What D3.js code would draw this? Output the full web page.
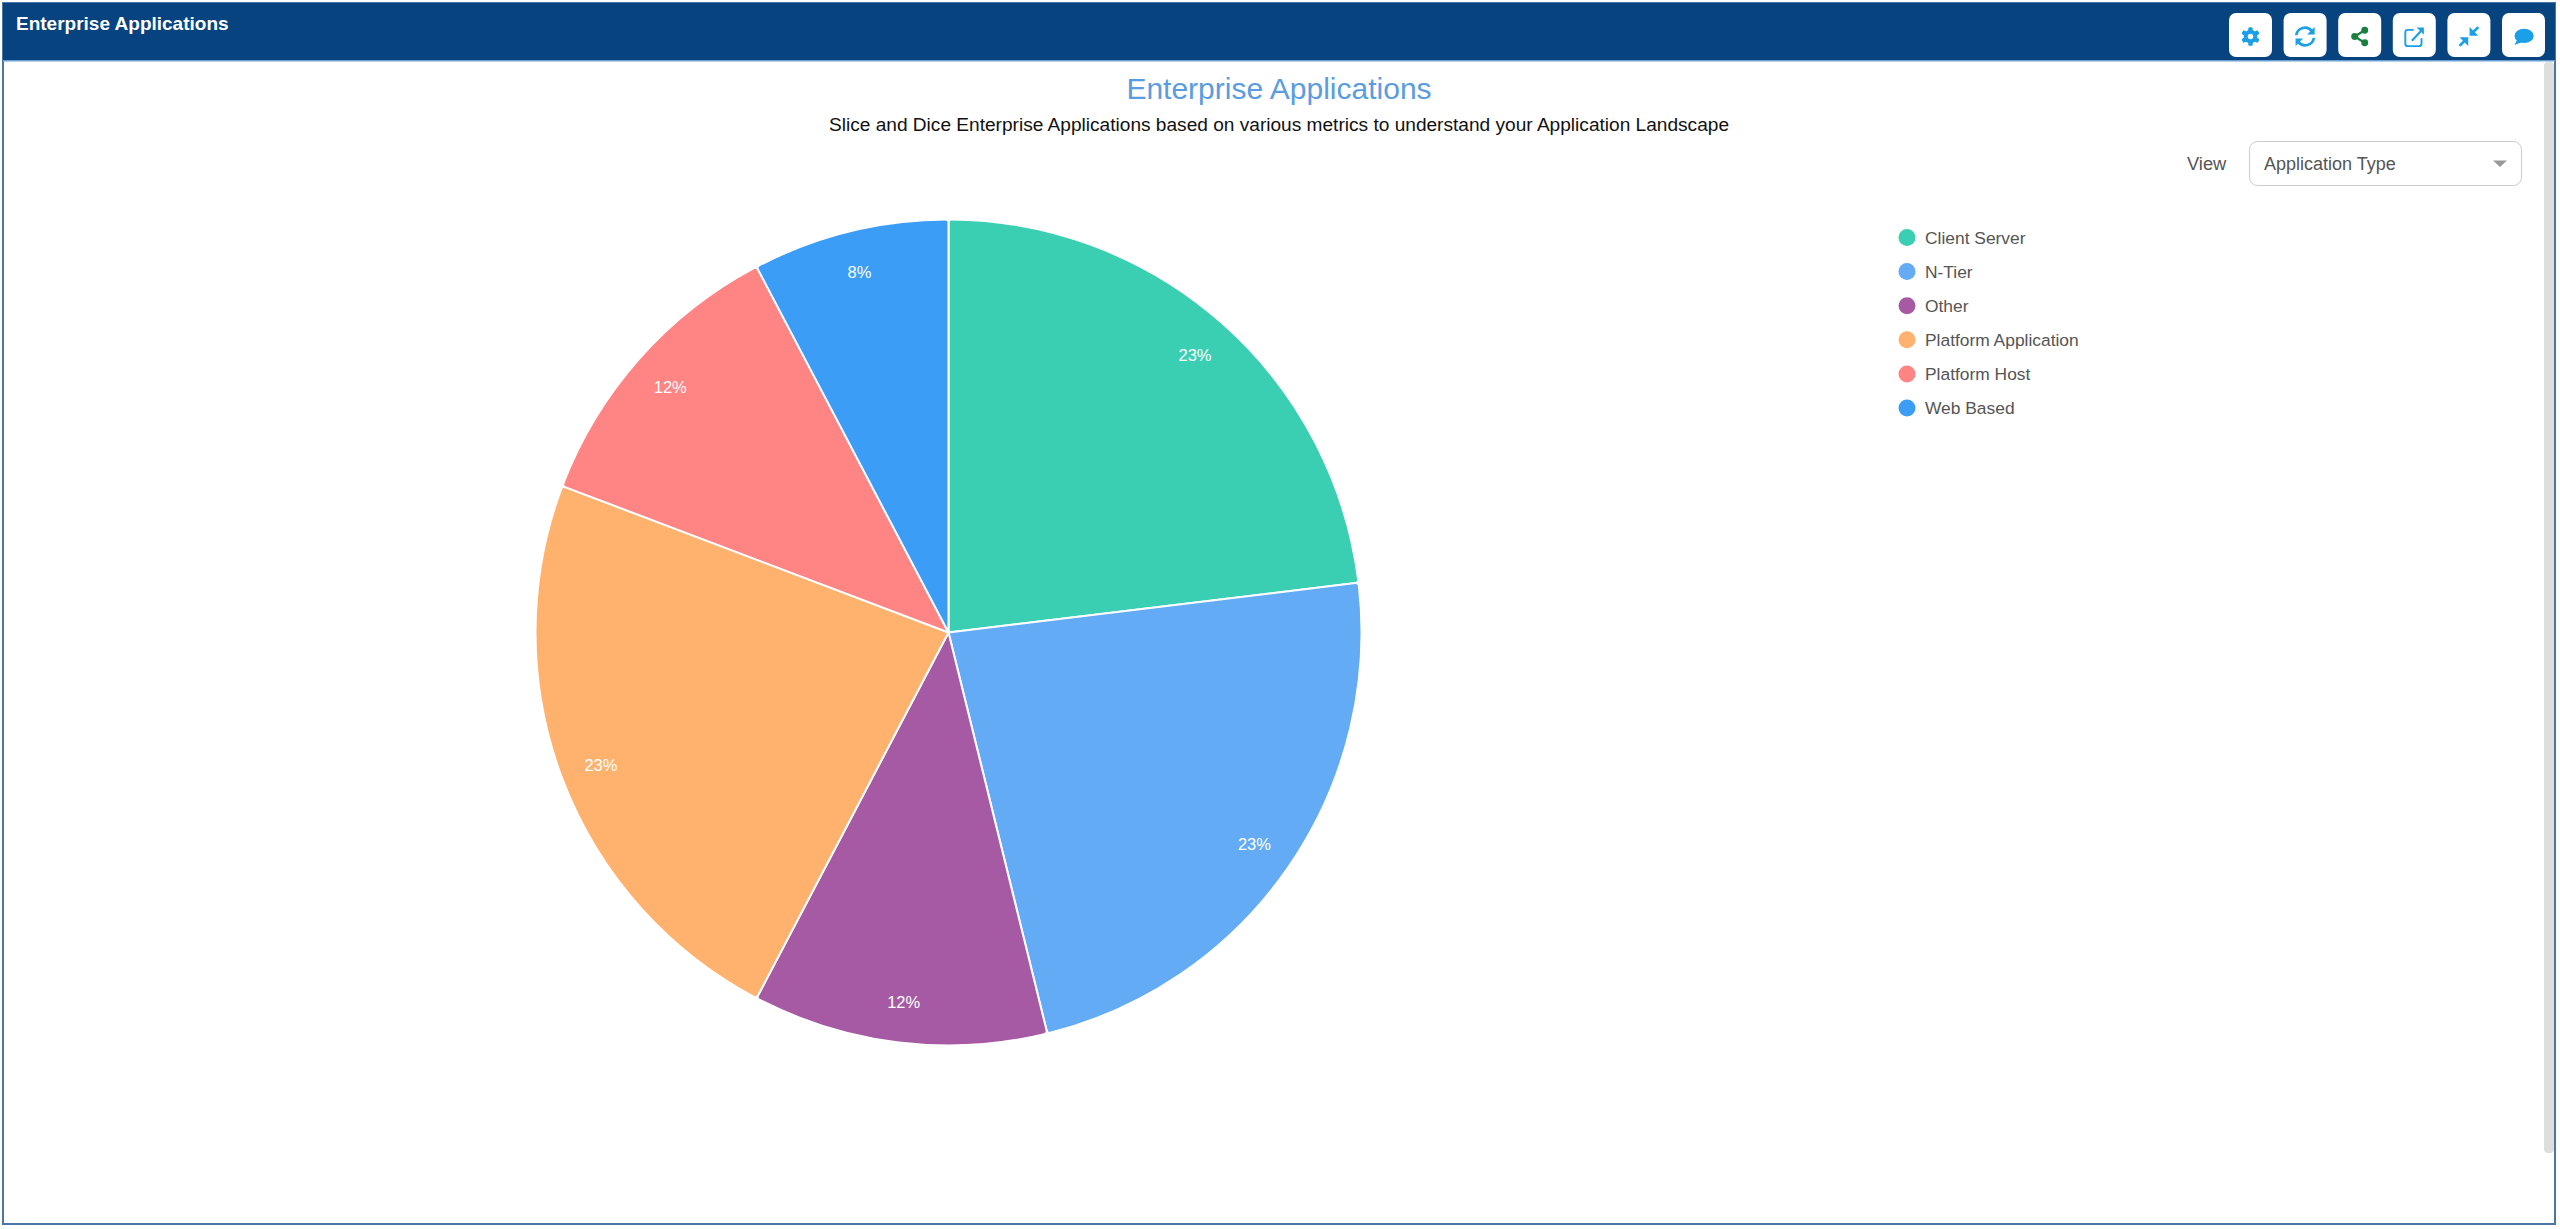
<!DOCTYPE html>
<html>
<head>
<meta charset="utf-8">
<script src="https://cdn.jsdelivr.net/npm/d3@7/dist/d3.min.js"></script>
<style>
html,body{margin:0;padding:0;background:#fff;overflow:hidden}
svg{display:block}
text{font-family:"Liberation Sans",Arial,sans-serif}
</style>
</head>
<body>
<svg id="c" width="2560" height="1229"></svg>
<script>
const categories = ["Client Server","N-Tier","Other","Platform Application","Platform Host","Web Based"];
const values = [6,6,3,6,3,2];
const colors = ["#3acfb3","#63abf4","#a65aa3","#ffb26e","#ff8585","#3c9df6"];
const headerTitle = "Enterprise Applications";
const chartTitle = "Enterprise Applications";
const chartSubtitle = "Slice and Dice Enterprise Applications based on various metrics to understand your Application Landscape";
const viewLabel = "View";
const viewValue = "Application Type";
const buttons = ["gear","refresh","share","external","compress","comment"];
const iconScale = [0.65,0.68,0.63,0.6,0.67,0.6];

const svg = d3.select("#c");

// frame and header
svg.append("rect").attr("x",3).attr("y",3).attr("width",2552).attr("height",1221)
  .attr("fill","#fff").attr("stroke","#4a76a8").attr("stroke-width",2);
svg.append("rect").attr("x",3).attr("y",3).attr("width",2552).attr("height",58).attr("fill","#06437f");
svg.append("rect").attr("x",3).attr("y",60).attr("width",2552).attr("height",1.5).attr("fill","#6a9fd0");
svg.append("rect").attr("x",2544).attr("y",62).attr("width",10).attr("height",1091).attr("rx",4).attr("fill","#dedede");

svg.append("text").attr("x",16).attr("y",30).attr("fill","#fff").attr("font-weight",700)
  .attr("font-size",19).text(headerTitle);

// toolbar
const ACC = "#1a9fe8", GRN = "#1b7f3f";
const bx = d3.scalePoint().domain(buttons).range([2250.5,2523.5]);
const drawIcon = {
  gear(g){
    g.append("g").selectAll("rect").data(d3.range(6)).join("rect")
      .attr("x",-3).attr("y",-14).attr("width",6).attr("height",28).attr("rx",1.5).attr("fill",ACC)
      .attr("transform",d=>`rotate(${d*60})`);
    g.append("circle").attr("r",10.5).attr("fill",ACC);
    g.append("circle").attr("r",4.2).attr("fill","#fff");
  },
  refresh(g){
    g.append("path").attr("d","M-13,-2A13,13 0 0 1 10,-8").attr("fill","none").attr("stroke",ACC).attr("stroke-width",4);
    g.append("path").attr("d","M13,2A13,13 0 0 1 -10,8").attr("fill","none").attr("stroke",ACC).attr("stroke-width",4);
    g.append("path").attr("d","M14,-14V-3H3Z").attr("fill",ACC);
    g.append("path").attr("d","M-14,14V3H-3Z").attr("fill",ACC);
  },
  share(g){
    g.append("path").attr("d","M8,-10L-8,0L8,10").attr("fill","none").attr("stroke",GRN).attr("stroke-width",3.5);
    g.append("circle").attr("cx",8).attr("cy",-10).attr("r",5.5).attr("fill",GRN);
    g.append("circle").attr("cx",-8).attr("cy",0).attr("r",5.5).attr("fill",GRN);
    g.append("circle").attr("cx",8).attr("cy",10).attr("r",5.5).attr("fill",GRN);
  },
  external(g){
    g.append("path").attr("d","M-1,-11H-11Q-15,-11 -15,-7V12Q-15,16 -11,16H8Q12,16 12,12V3")
      .attr("fill","none").attr("stroke",ACC).attr("stroke-width",3.2);
    g.append("path").attr("d","M-4,7L12,-10").attr("fill","none").attr("stroke",ACC).attr("stroke-width",3.5);
    g.append("path").attr("d","M4,-15H16V-3Z").attr("fill",ACC);
  },
  compress(g){
    g.append("path").attr("d","M5,-5L14,-14").attr("stroke",ACC).attr("stroke-width",4);
    g.append("path").attr("d","M1,-14V-1H14Z").attr("fill",ACC);
    g.append("path").attr("d","M-5,5L-14,14").attr("stroke",ACC).attr("stroke-width",4);
    g.append("path").attr("d","M-1,14V1H-14Z").attr("fill",ACC);
  },
  comment(g){
    g.append("ellipse").attr("cx",1).attr("cy",-1).attr("rx",16).attr("ry",12).attr("fill",ACC);
    g.append("path").attr("d","M-10,4L-15,14L-2,9Z").attr("fill",ACC);
  }
};
buttons.forEach((b,i)=>{
  const g = svg.append("g").attr("transform",`translate(${bx(b)},35)`);
  g.append("rect").attr("x",-21.5).attr("y",-22).attr("width",43).attr("height",44).attr("rx",7).attr("fill","#fff");
  drawIcon[b](g.append("g").attr("transform",`translate(0,1.5) scale(${iconScale[i]})`));
});

// titles
svg.append("text").attr("x",1279).attr("y",99).attr("text-anchor","middle").attr("fill","#5b9ce0")
  .attr("font-size",30).text(chartTitle);
svg.append("text").attr("x",1279).attr("y",131).attr("text-anchor","middle").attr("fill","#111")
  .attr("font-size",19.1).text(chartSubtitle);

// view dropdown
svg.append("text").attr("x",2187).attr("y",170).attr("fill","#555").attr("font-size",18.3).text(viewLabel);
svg.append("rect").attr("x",2249.5).attr("y",141.5).attr("width",272).attr("height",44).attr("rx",8)
  .attr("fill","#fff").attr("stroke","#ccc").attr("stroke-width",1);
svg.append("text").attr("x",2264).attr("y",170).attr("fill","#555").attr("font-size",18).text(viewValue);
svg.append("path").attr("d","M2493,160.5H2507L2500,167Z").attr("fill","#999");

// pie
const cx = 948.5, cy = 632.5, R = 413;
const pie = d3.pie().sort(null).value(d=>d.value);
const arc = d3.arc().innerRadius(0).outerRadius(R).cornerRadius(3);
const labelArc = d3.arc().innerRadius(R*0.9).outerRadius(R*0.9);
const total = d3.sum(values);
const rows = categories.map((c,i)=>({name:c,value:values[i],color:colors[i]}));
const pg = svg.append("g").attr("transform",`translate(${cx},${cy})`);
const arcs = pie(rows);
pg.selectAll("path").data(arcs).join("path")
  .attr("d",arc).attr("fill",d=>d.data.color).attr("stroke","#fff").attr("stroke-width",2).attr("stroke-linejoin","round");
pg.selectAll("text").data(arcs).join("text")
  .attr("transform",d=>`translate(${labelArc.centroid(d)})`)
  .attr("text-anchor","middle").attr("dy","0.4em").attr("fill","#fff").attr("font-size",16.5)
  .text(d=>d3.format(".0%")(d.value/total));

// legend
const ly = d3.scalePoint().domain(categories).range([237.5,408]);
const lg = svg.append("g").selectAll("g").data(rows).join("g")
  .attr("transform",d=>`translate(1907,${ly(d.name)})`);
lg.append("circle").attr("r",8.5).attr("fill",d=>d.color);
lg.append("text").attr("x",18).attr("dy","0.35em").attr("fill","#555").attr("font-size",17.4).text(d=>d.name);
</script>
</body>
</html>
